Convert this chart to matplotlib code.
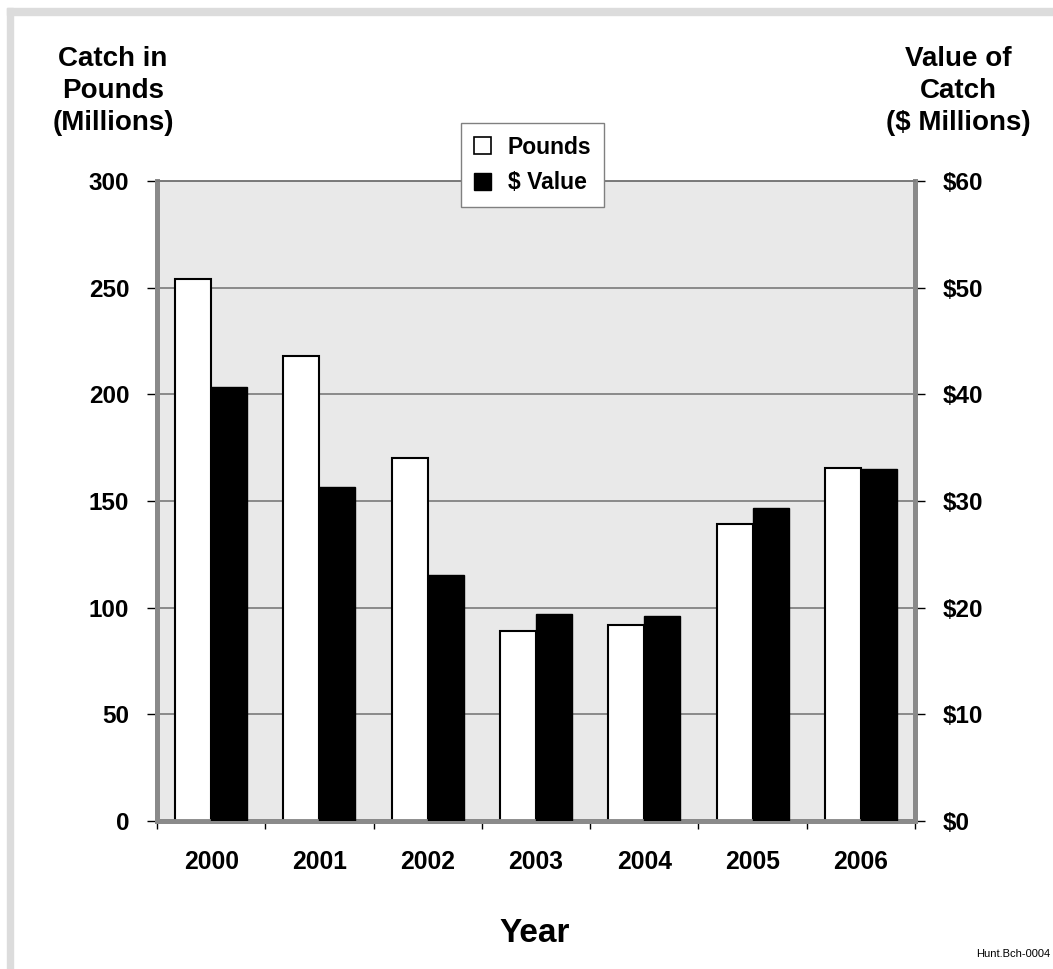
import matplotlib
matplotlib.use("Agg")
import matplotlib.pyplot as plt
import numpy as np
from matplotlib.patches import Patch, Rectangle
from matplotlib.ticker import FuncFormatter

plt.rcParams['font.family'] = ['Liberation Sans', 'DejaVu Sans']
plt.rcParams['font.weight'] = 'bold'

# data
years = ['2000', '2001', '2002', '2003', '2004', '2005', '2006']
pounds = [254, 218, 170, 89, 92, 139, 165.5]      # millions of pounds
value = [40.7, 31.3, 23.1, 19.4, 19.2, 29.3, 33.0]  # $ millions

W, H = 1053, 969
fig = plt.figure(figsize=(W / 100, H / 100), dpi=100)

# light gray frame band on top and left
fig.patches.append(Rectangle((7 / W, 1 - 15 / H), 1, 7 / H, transform=fig.transFigure,
                             color='#dcdcdc', zorder=0))
fig.patches.append(Rectangle((7 / W, 0), 6 / W, 1 - 8 / H, transform=fig.transFigure,
                             color='#dcdcdc', zorder=0))

ax = fig.add_axes([157 / W, 1 - 821 / H, (915 - 157) / W, (821 - 181) / H])
ax2 = ax.twinx()

x = np.arange(len(years))
bw = 0.333
ax.bar(x - bw / 2, pounds, width=bw, color='white', edgecolor='black', linewidth=1.5, zorder=3)
ax2.bar(x + bw / 2, value, width=bw, color='black', edgecolor='black', linewidth=1.0, zorder=3)

ax.set_facecolor('#e9e9e9')
ax.set_xlim(-0.5, len(years) - 0.5)
ax.set_ylim(0, 300)
ax2.set_ylim(0, 60)
ax.set_yticks(np.arange(0, 301, 50))
ax2.set_yticks(np.arange(0, 61, 10))
ax2.yaxis.set_major_formatter(FuncFormatter(lambda v, p: f'${int(v)}'))

ax.set_axisbelow(True)
ax.yaxis.grid(True, color='#7a7a7a', linewidth=1.2)

# category separators as major ticks, labels on minor ticks
ax.set_xticks(np.arange(-0.5, len(years), 1.0))
ax.set_xticklabels([])
ax.set_xticks(x, minor=True)
ax.set_xticklabels(years, minor=True)
ax.tick_params(axis='x', which='major', direction='out', length=6, width=1, color='black')
ax.tick_params(axis='x', which='minor', length=0, pad=21, labelsize=17.7)
ax.tick_params(axis='y', direction='out', length=7, width=1, color='black', pad=13, labelsize=17.5)
ax2.tick_params(axis='y', direction='out', length=7, width=1, color='black', pad=13, labelsize=17.5)

for a in (ax, ax2):
    for s in ('left', 'right', 'bottom'):
        a.spines[s].set_color('#8a8a8a')
        a.spines[s].set_linewidth(3.5)
    a.spines['top'].set_color('#7a7a7a')
    a.spines['top'].set_linewidth(1.2)

# axis titles
fig.text(113 / W, 1 - 46 / H, 'Catch in\nPounds\n(Millions)', ha='center', va='top',
         fontsize=20, fontweight='bold', linespacing=1.3)
fig.text(958 / W, 1 - 46 / H, 'Value of\nCatch\n($ Millions)', ha='center', va='top',
         fontsize=20, fontweight='bold', linespacing=1.3)
fig.text(535 / W, 1 - 933 / H, 'Year', ha='center', va='center', fontsize=24, fontweight='bold')
fig.text(1050 / W, 1 - 957 / H, 'Hunt.Bch-0004', ha='right', va='baseline',
         fontsize=8, fontweight='normal')

handles = [Patch(facecolor='white', edgecolor='black', linewidth=1.2, label='Pounds'),
           Patch(facecolor='black', edgecolor='black', label='$ Value')]
leg = fig.legend(handles=handles, loc='upper left', bbox_to_anchor=(461 / W, 1 - 123 / H),
                 fancybox=False, framealpha=1, edgecolor='#808080', fontsize=16.5,
                 handlelength=0.75, handleheight=0.75, handletextpad=0.75,
                 borderpad=0.55, labelspacing=0.55, borderaxespad=0)
leg.get_frame().set_linewidth(1.0)
leg._legend_box.sep = 0
for t in leg.get_texts():
    t.set_fontweight('bold')

fig.savefig('out.png', dpi=100)
